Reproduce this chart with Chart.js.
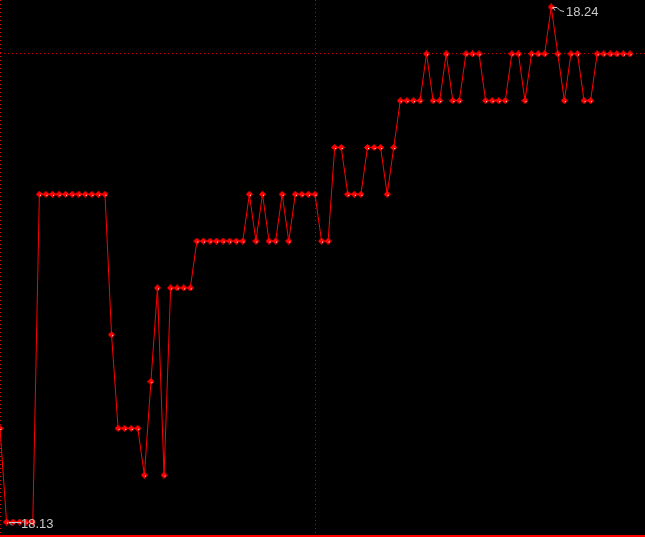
<!DOCTYPE html>
<html>
<head>
<meta charset="utf-8">
<script src="https://cdn.jsdelivr.net/npm/chart.js@4/dist/chart.umd.min.js"></script>
<style>
  html, body { margin: 0; padding: 0; background: #000; }
  #wrap { width: 645px; height: 537px; }
</style>
</head>
<body>
<div id="wrap"><canvas id="chart" width="645" height="537"></canvas></div>
<script>
// one price per trade step
const prices = [
  18.15,
  18.13, 18.13, 18.13, 18.13, 18.13,
  18.20, 18.20, 18.20, 18.20, 18.20, 18.20, 18.20, 18.20, 18.20, 18.20, 18.20,
  18.17,
  18.15, 18.15, 18.15, 18.15,
  18.14, 18.16, 18.18, 18.14,
  18.18, 18.18, 18.18, 18.18,
  18.19, 18.19, 18.19, 18.19, 18.19, 18.19, 18.19, 18.19,
  18.20, 18.19, 18.20, 18.19, 18.19, 18.20, 18.19,
  18.20, 18.20, 18.20, 18.20,
  18.19, 18.19,
  18.21, 18.21,
  18.20, 18.20, 18.20,
  18.21, 18.21, 18.21,
  18.20, 18.21,
  18.22, 18.22, 18.22, 18.22,
  18.23, 18.22, 18.22, 18.23, 18.22, 18.22,
  18.23, 18.23, 18.23,
  18.22, 18.22, 18.22, 18.22,
  18.23, 18.23, 18.22,
  18.23, 18.23, 18.23,
  18.24, 18.23, 18.22,
  18.23, 18.23, 18.22, 18.22,
  18.23, 18.23, 18.23, 18.23, 18.23, 18.23
];
const steps = prices.map((p, i) => i);
const yRange = [18.12701, 18.241495];
const xRange = [0, 98.29];
const gridX = [0, 48.15];
const gridY = [18.23];
const maxLabel = '18.24';
const minLabel = '18.13';

// small red diamond with a white glint
const dot = document.createElement('canvas');
dot.width = 7; dot.height = 7;
(function () {
  const c = dot.getContext('2d');
  c.fillStyle = '#ff0000';
  c.beginPath();
  c.moveTo(3.5, 0); c.lineTo(7, 3.5); c.lineTo(3.5, 7); c.lineTo(0, 3.5);
  c.closePath(); c.fill();
  c.fillRect(1, 2, 5, 3);
  c.fillStyle = '#ffffff';
  c.fillRect(4, 4, 1, 1);
})();

const extremes = {
  id: 'extremes',
  afterDatasetsDraw(chart) {
    const ctx = chart.ctx;
    const xs = chart.scales.x, ys = chart.scales.y;
    const hi = prices.indexOf(Math.max(...prices));
    const lo = prices.indexOf(Math.min(...prices));
    ctx.save();
    ctx.strokeStyle = '#c8c8c8';
    ctx.fillStyle = '#c8c8c8';
    ctx.lineWidth = 1;
    ctx.font = '13px "Liberation Sans", Arial, sans-serif';
    ctx.textBaseline = 'middle';

    // max label
    let px = Math.round(xs.getPixelForValue(steps[hi]));
    let py = Math.round(ys.getPixelForValue(prices[hi]));
    ctx.beginPath();
    ctx.moveTo(px + 2, py + 0.5); ctx.lineTo(px + 6, py + 0.5);
    ctx.moveTo(px + 2, py + 0.5); ctx.lineTo(px + 4, py + 3.5);
    ctx.moveTo(px + 6, py + 0.5); ctx.lineTo(px + 9, py + 3.5); ctx.lineTo(px + 13, py + 4.5);
    ctx.stroke();
    ctx.fillText(maxLabel, px + 15, py + 5);

    // min label
    px = Math.round(xs.getPixelForValue(steps[lo]));
    py = Math.round(ys.getPixelForValue(prices[lo]));
    ctx.beginPath();
    ctx.moveTo(px + 2, py + 0.5); ctx.lineTo(px + 14, py + 0.5);
    ctx.moveTo(px + 2, py + 0.5); ctx.lineTo(px + 5, py + 3.5);
    ctx.stroke();
    ctx.fillText(minLabel, px + 14, py + 2.5);

    // cut-off caption at the very top
    ctx.textBaseline = 'alphabetic';
    ctx.fillText('18.2415', 3, -0.5);
    ctx.restore();
  }
};

new Chart(document.getElementById('chart').getContext('2d'), {
  type: 'line',
  data: {
    datasets: [{
      data: prices.map((p, i) => ({ x: steps[i], y: p })),
      borderColor: '#ff0000',
      borderWidth: 1,
      tension: 0,
      pointStyle: dot,
      pointRadius: 3,
      pointHoverRadius: 3,
      clip: false
    }]
  },
  options: {
    responsive: false,
    animation: false,
    events: [],
    layout: { autoPadding: false, padding: { top: 0, left: 0, right: 0, bottom: 1 } },
    plugins: { legend: { display: false }, tooltip: { enabled: false } },
    scales: {
      x: {
        type: 'linear',
        min: xRange[0],
        max: xRange[1],
        afterBuildTicks: s => { s.ticks = gridX.map(v => ({ value: v })); },
        ticks: { display: false },
        grid: { color: '#d00000', drawTicks: false, lineWidth: 1 },
        border: { display: true, color: '#ff0000', width: 2, dash: [1, 3] }
      },
      y: {
        min: yRange[0],
        max: yRange[1],
        afterBuildTicks: s => { s.ticks = gridY.map(v => ({ value: v })); },
        ticks: { display: false },
        grid: { color: '#d00000', drawTicks: false, lineWidth: 1 },
        border: { display: false, dash: [1, 3] }
      }
    }
  },
  plugins: [extremes]
});
</script>
</body>
</html>
